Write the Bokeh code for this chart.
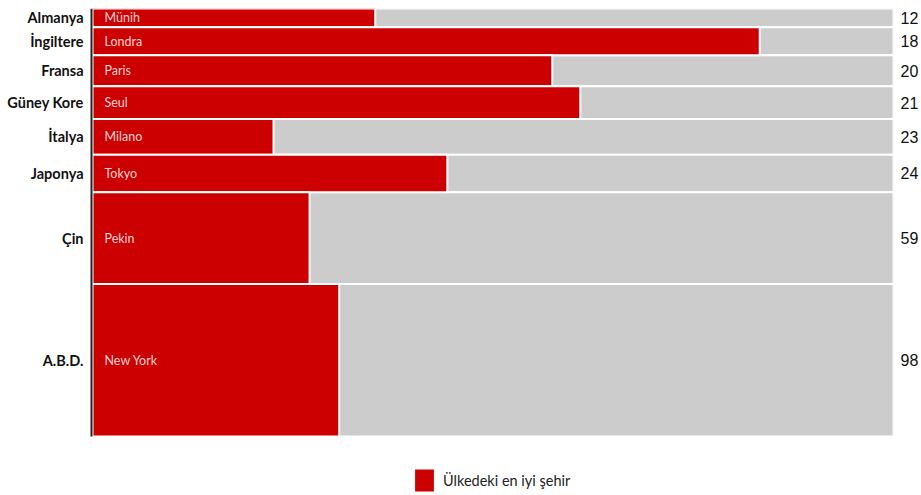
from bokeh.plotting import figure
from bokeh.models import Range1d, LinearAxis, FixedTicker, ColumnDataSource, Legend, LegendItem
from bokeh.core.properties import value
from bokeh.embed import file_html
from bokeh.resources import INLINE

countries = ["Almanya", "İngiltere", "Fransa", "Güney Kore", "İtalya", "Japonya", "Çin", "A.B.D."]
cities = ["Münih", "Londra", "Paris", "Seul", "Milano", "Tokyo", "Pekin", "New York"]
counts = [12, 18, 20, 21, 23, 24, 59, 98]
best_share = [35.3, 83.3, 57.4, 60.9, 22.6, 44.3, 27.1, 30.8]

total = sum(counts)
tops, bottoms, centers = [], [], []
acc = 0
for c in counts:
    tops.append(acc)
    bottoms.append(acc + c)
    centers.append(acc + c / 2)
    acc += c

src = ColumnDataSource(dict(top=tops, bottom=bottoms, center=centers, share=best_share,
                            full=[100] * len(counts), zero=[0] * len(counts), city=cities))

# frame: x 89..893 px, y 8..495 px; bars occupy x 92..893, y 8..436
W, H = 921, 495
fl, fr, ft, fb = 89, 893, 8, 495
bars_left, bars_bottom = 92, 436
px = 100 / (fr - bars_left)
xmin = -px * (bars_left - fl)
ymax = total * (fb - ft) / (bars_bottom - ft)
axis_x = -px * 1.0

p = figure(width=W, height=H, output_backend="svg", toolbar_location=None,
           x_range=Range1d(xmin, 100), y_range=Range1d(ymax, 0),
           min_border_left=fl, min_border_right=W - fr, min_border_top=ft, min_border_bottom=0,
           outline_line_color=None)
p.xaxis.visible = False
p.yaxis.visible = False
p.grid.visible = False

p.quad(left="zero", right="full", top="top", bottom="bottom", source=src,
       fill_color="#cccccc", line_color="white", line_width=2)
red = p.quad(left="zero", right="share", top="top", bottom="bottom", source=src,
             fill_color="#cc0000", line_color="white", line_width=2)

# vertical axis line
p.segment(x0=[axis_x], y0=[0], x1=[axis_x], y1=[total], line_color="#222222", line_width=2)

p.text(x="zero", y="center", text="city", source=src, x_offset=12,
       text_baseline="middle", text_align="left", text_color="#f6d2d2",
       text_font=value("Lato"), text_font_size="12.5px")

ticker = FixedTicker(ticks=centers)
left_ax = LinearAxis(ticker=ticker,
                     major_label_overrides={float(c): n for c, n in zip(centers, countries)},
                     major_tick_line_color=None, minor_tick_line_color=None,
                     major_tick_out=0, major_tick_in=0, minor_tick_out=0, minor_tick_in=0,
                     axis_line_color=None,
                     major_label_standoff=6,
                     major_label_text_font="Lato", major_label_text_font_style="bold",
                     major_label_text_font_size="14.5px", major_label_text_color="#111111")
p.add_layout(left_ax, "left")
right_ax = LinearAxis(ticker=ticker,
                      major_label_overrides={float(c): str(n) for c, n in zip(centers, counts)},
                      major_tick_line_color=None, minor_tick_line_color=None,
                      major_tick_out=0, major_tick_in=0, minor_tick_out=0, minor_tick_in=0,
                      axis_line_color=None, major_label_standoff=7,
                      major_label_text_font="Liberation Sans",
                      major_label_text_font_size="16px", major_label_text_color="#111111")
p.add_layout(right_ax, "right")

legend = Legend(items=[LegendItem(label="Ülkedeki en iyi şehir", renderers=[red])],
                location=(411 - fl, 0), orientation="horizontal",
                glyph_width=26, glyph_height=30, label_standoff=6, padding=0, margin=0,
                border_line_color=None, background_fill_alpha=0,
                label_text_font="Lato", label_text_font_size="14.5px",
                label_text_color="#222222")
p.add_layout(legend, "center")

open("out.html", "w").write(file_html(p, INLINE))
